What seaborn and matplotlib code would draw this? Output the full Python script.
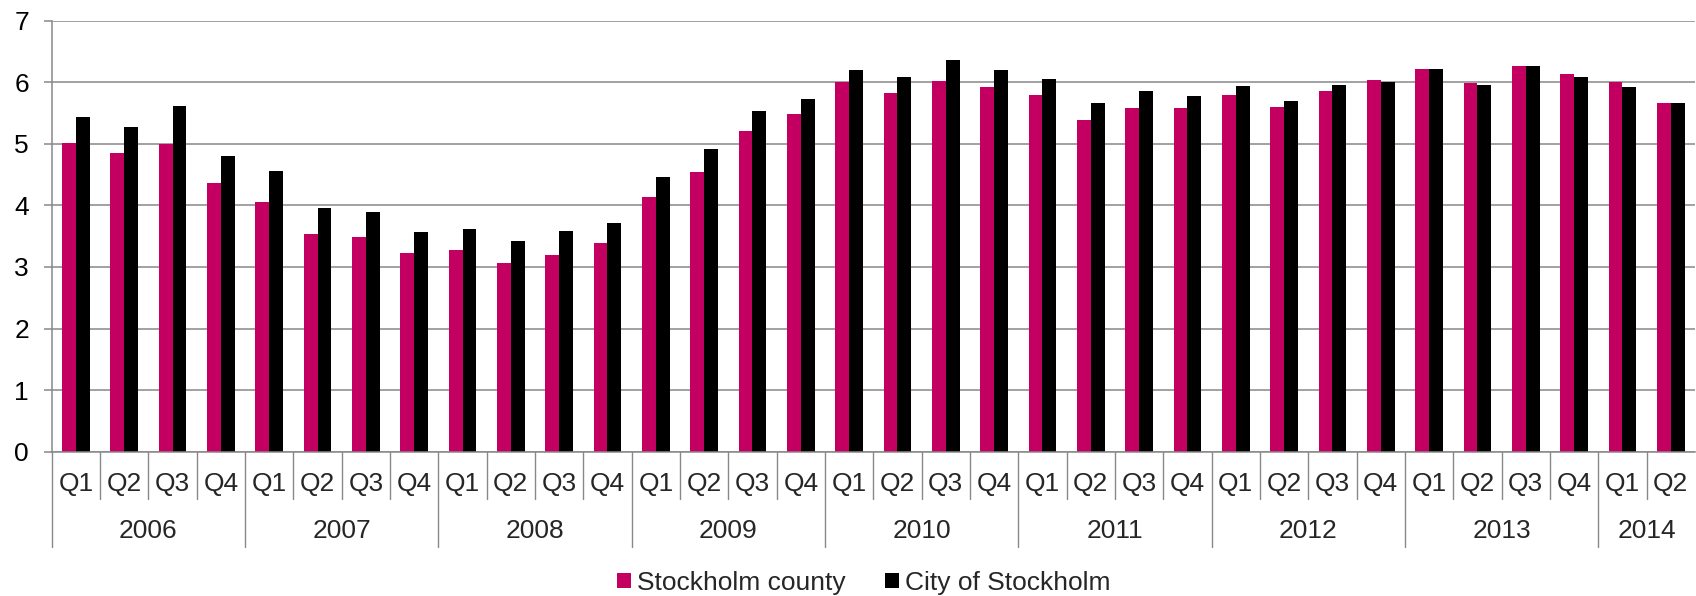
import matplotlib
matplotlib.use("Agg")
import matplotlib.pyplot as plt
from matplotlib.patches import Patch
import pandas as pd
import seaborn as sns

# data
years = ["2006", "2007", "2008", "2009", "2010", "2011", "2012", "2013", "2014"]
quarters = ["Q1", "Q2", "Q3", "Q4"]
periods = [f"{y} {q}" for y in years for q in quarters][:34]

county = [5.02, 4.85, 5.00, 4.36,
          4.05, 3.53, 3.49, 3.22,
          3.28, 3.06, 3.20, 3.39,
          4.14, 4.54, 5.21, 5.49,
          6.01, 5.83, 6.02, 5.92,
          5.79, 5.39, 5.58, 5.58,
          5.79, 5.60, 5.86, 6.03,
          6.21, 5.99, 6.27, 6.14,
          6.01, 5.67]
city = [5.43, 5.27, 5.61, 4.80,
        4.56, 3.95, 3.89, 3.57,
        3.61, 3.43, 3.59, 3.72,
        4.46, 4.91, 5.53, 5.73,
        6.20, 6.09, 6.36, 6.20,
        6.06, 5.67, 5.86, 5.77,
        5.94, 5.70, 5.96, 6.00,
        6.22, 5.95, 6.26, 6.09,
        5.93, 5.67]

series = ["Stockholm county", "City of Stockholm"]
colors = ["#C30061", "#000000"]

df = pd.DataFrame({
    "period": periods * 2,
    "value": county + city,
    "series": [series[0]] * len(county) + [series[1]] * len(city),
})

sns.set_style("white")
plt.rcParams["font.family"] = ["Liberation Sans", "DejaVu Sans"]
grey = "#888888"
fs = 19

W, H = 1696, 596
left, top, bottom = 51.7, 20.7, 451.7
slot = 48.33
fig = plt.figure(figsize=(W / 100, H / 100), dpi=100)
ax = fig.add_axes([left / W, 1 - bottom / H, 34 * slot / W, (bottom - top) / H])

sns.barplot(data=df, x="period", y="value", hue="series", order=periods,
            hue_order=series, palette=colors, width=0.57, saturation=1,
            linewidth=0, legend=False, ax=ax)

ax.set_xlim(-0.5, len(periods) - 0.5)
ax.set_ylim(0, 7)
ax.set_yticks(range(8))
ax.yaxis.grid(True, color=grey, lw=1.1)
ax.set_axisbelow(True)
ax.set_xticks([])
ax.set_xlabel("")
ax.set_ylabel("")
for s in ["top", "right"]:
    ax.spines[s].set_visible(False)
for s in ["left", "bottom"]:
    ax.spines[s].set_color(grey)
    ax.spines[s].set_linewidth(1.1)
ax.tick_params(axis="y", left=True, length=5.8, width=1.1, color=grey,
               pad=10.5, labelsize=fs, labelcolor="black")

# two-level category axis (quarters, then years)
h_ax = bottom - top
def ay(px):
    return (bottom - px) / h_ax

tr = ax.get_xaxis_transform()
for i in range(len(periods)):
    x = i - 0.5
    y_end = ay(547) if i % 4 == 0 else ay(499)
    ax.plot([x, x], [0, y_end], color=grey, lw=1.0, transform=tr, clip_on=False)
for i, p in enumerate(periods):
    ax.text(i, ay(484), p.split()[1], transform=tr, ha="center", va="center",
            fontsize=fs)
for y in years:
    idx = [i for i, p in enumerate(periods) if p.startswith(y)]
    ax.text(sum(idx) / len(idx), ay(531), y, transform=tr, ha="center",
            va="center", fontsize=fs)

handles = [Patch(facecolor=c, edgecolor="none") for c in colors]
fig.legend(handles, series, loc="center", bbox_to_anchor=(864 / W, 1 - 583 / H),
           ncol=2, frameon=False, fontsize=fs, handlelength=0.53,
           handleheight=0.53, handletextpad=0.23, columnspacing=1.5,
           borderpad=0, borderaxespad=0)

fig.savefig("out.png", dpi=100)
